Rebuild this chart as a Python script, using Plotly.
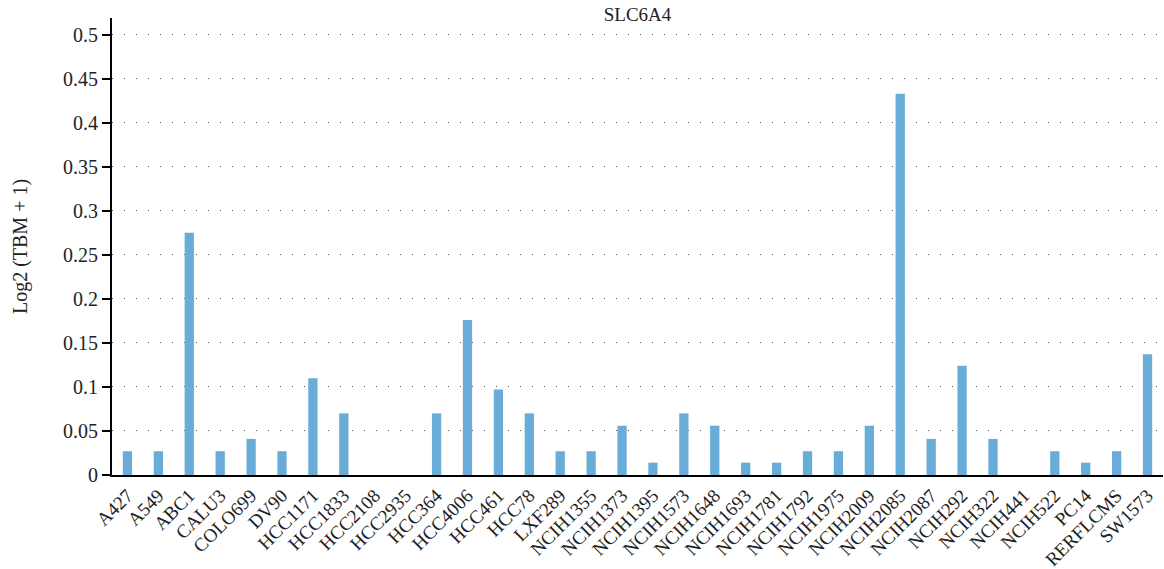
import plotly.graph_objs as go

# cell lines and expression values
cell_lines = ["A427", "A549", "ABC1", "CALU3", "COLO699", "DV90", "HCC1171", "HCC1833",
              "HCC2108", "HCC2935", "HCC364", "HCC4006", "HCC461", "HCC78", "LXF289",
              "NCIH1355", "NCIH1373", "NCIH1395", "NCIH1573", "NCIH1648", "NCIH1693",
              "NCIH1781", "NCIH1792", "NCIH1975", "NCIH2009", "NCIH2085", "NCIH2087",
              "NCIH292", "NCIH322", "NCIH441", "NCIH522", "PC14", "RERFLCMS", "SW1573"]
expr = [0.027, 0.027, 0.275, 0.027, 0.041, 0.027, 0.110, 0.070,
        0.0, 0.0, 0.070, 0.176, 0.097, 0.070, 0.027,
        0.027, 0.056, 0.014, 0.070, 0.056, 0.014,
        0.014, 0.027, 0.027, 0.056, 0.433, 0.041,
        0.124, 0.041, 0.0, 0.027, 0.014, 0.027, 0.137]
y_ticks = [0, 0.05, 0.1, 0.15, 0.2, 0.25, 0.3, 0.35, 0.4, 0.45, 0.5]
y_labels = ["0", "0.05", "0.1", "0.15", "0.2", "0.25", "0.3", "0.35", "0.4", "0.45", "0.5"]

font = "Liberation Serif, DejaVu Serif, serif"

trace = go.Bar(x=cell_lines, y=expr, marker_color="#69acd7",
               marker_line_width=0, width=0.3)

layout = go.Layout(
    title=dict(text="SLC6A4", xref="paper", x=0.5, xanchor="center", y=0.975, yanchor="middle",
               font=dict(family=font, size=19, color="#222")),
    font=dict(family=font, size=20, color="#222"),
    paper_bgcolor="white", plot_bgcolor="white",
    margin=dict(l=112, r=1, t=18, b=94),
    width=1164, height=569,
    showlegend=False,
    xaxis=dict(tickangle=-45, showline=True, linecolor="black", linewidth=2,
               ticks="", showgrid=False, tickfont=dict(size=19), automargin=False),
    yaxis=dict(range=[0, 0.519], tickvals=y_ticks, ticktext=y_labels,
               showline=True, linecolor="black", linewidth=2,
               ticks="outside", ticklen=8, tickwidth=2, tickcolor="black",
               showgrid=True, gridcolor="#555", griddash="1px,11px", gridwidth=1,
               zeroline=False, tickfont=dict(size=20), automargin=False,
               title=dict(text="Log2 (TBM + 1)", font=dict(size=20), standoff=30)),
)

fig = go.Figure(data=[trace], layout=layout)
# page body has a default 8px margin; drop it so the figure sits at the window corner
fig.write_html("out.html", config={"displayModeBar": False},
               post_script="document.body.style.margin='0';")
